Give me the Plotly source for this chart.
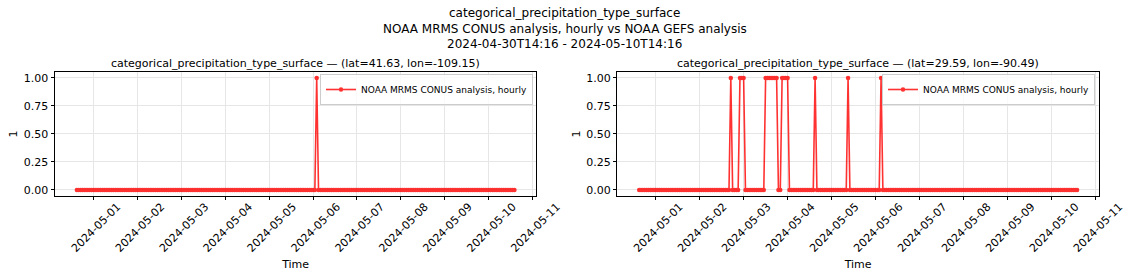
import pandas as pd
import plotly.graph_objects as go

# ---- data -------------------------------------------------------------
start_time = "2024-04-30 15:00"
n_hours = 240
times = pd.date_range(start_time, periods=n_hours, freq="h")

# hourly values, one row per 24 h starting at 15:00
left_values = (
    [0]*24 +
    [0]*24 +
    [0]*24 +
    [0]*24 +
    [0]*24 +
    [0,0,0,0,0,0,0,0,0,0,0,1,0,0,0,0,0,0,0,0,0,0,0,0] +
    [0]*24 +
    [0]*24 +
    [0]*24 +
    [0]*24
)
right_values = (
    [0]*24 +
    [0]*24 +
    [0,0,1,0,0,0,0,1,1,1,0,0,0,0,0,0,0,0,0,0,0,1,1,1] +
    [1,1,1,1,0,0,1,1,1,1,0,0,0,0,0,0,0,0,0,0,0,0,0,0] +
    [1,0,0,0,0,0,0,0,0,0,0,0,0,0,0,0,0,0,1,0,0,0,0,0] +
    [0,0,0,0,0,0,0,0,0,0,0,0,1,0,0,0,0,0,0,0,0,0,0,0] +
    [0]*24 +
    [0]*24 +
    [0]*24 +
    [0]*24
)
series_name = "NOAA MRMS CONUS analysis, hourly"
panel_titles = [
    "categorical_precipitation_type_surface \u2014 (lat=41.63, lon=-109.15)",
    "categorical_precipitation_type_surface \u2014 (lat=29.59, lon=-90.49)",
]
suptitle_lines = [
    "categorical_precipitation_type_surface",
    "NOAA MRMS CONUS analysis, hourly vs NOAA GEFS analysis",
    "2024-04-30T14:16 - 2024-05-10T14:16",
]
y_ticks = [0, 0.25, 0.5, 0.75, 1.0]
x_tick_dates = pd.date_range("2024-05-01", "2024-05-11", freq="D")

# ---- figure -----------------------------------------------------------
W, H = 1129, 279
FONT = "DejaVu Sans"

def px_x(p):
    return p / W

def px_y(p):
    return 1 - p / H

span = times[-1] - times[0]
xr = [times[0] - span * 0.05, times[-1] + span * 0.05]

fig = go.Figure()
for i, vals in enumerate([left_values, right_values]):
    fig.add_trace(go.Scatter(
        x=times, y=vals, mode="lines+markers", name=series_name,
        line=dict(color="red", width=1.6),
        marker=dict(color="red", size=4.5, line=dict(width=0)),
        opacity=0.8,
        xaxis="x" if i == 0 else "x2", yaxis="y" if i == 0 else "y2",
        legend="legend" if i == 0 else "legend2",
        showlegend=True,
    ))

ydom = [px_y(195.5), px_y(72.3)]
xdoms = [[px_x(55), px_x(536.3)], [px_x(617.3), px_x(1099)]]

common_x = dict(
    range=xr, tickvals=list(x_tick_dates),
    ticktext=[d.strftime("%Y-%m-%d") for d in x_tick_dates],
    tickangle=-45, ticks="outside", ticklen=3.5, tickwidth=0.8, tickcolor="black",
    showline=True, mirror=True, linecolor="black", linewidth=0.9,
    showgrid=True, gridcolor="#e6e6e6", gridwidth=0.8, zeroline=False,
    tickfont=dict(family=FONT, size=11, color="black"),
    ticklabelshift=24, ticklabelstandoff=-4,
    title=dict(text="Time", font=dict(family=FONT, size=11, color="black"), standoff=6),
    automargin=False,
)
common_y = dict(
    range=[-0.05, 1.05], tickvals=y_ticks, ticktext=[f"{v:.2f}" for v in y_ticks],
    ticks="outside", ticklen=3.5, tickwidth=0.8, tickcolor="black",
    showline=True, mirror=True, linecolor="black", linewidth=0.9,
    showgrid=True, gridcolor="#e6e6e6", gridwidth=0.8, zeroline=False,
    tickfont=dict(family=FONT, size=11, color="black"),
    title=dict(text="1", font=dict(family=FONT, size=11, color="black"), standoff=3),
    automargin=False, domain=ydom,
)

legend_common = dict(
    font=dict(family=FONT, size=9, color="black"),
    bgcolor="rgba(255,255,255,0.8)", bordercolor="#cccccc", borderwidth=1,
    xanchor="right", yanchor="top", itemwidth=30,
)

fig.update_layout(
    width=W, height=H,
    margin=dict(l=0, r=0, t=0, b=0),
    paper_bgcolor="white", plot_bgcolor="white",
    font=dict(family=FONT, color="black"),
    xaxis=dict(common_x, domain=xdoms[0], anchor="y"),
    xaxis2=dict(common_x, domain=xdoms[1], anchor="y2"),
    yaxis=dict(common_y, anchor="x"),
    yaxis2=dict(common_y, anchor="x2"),
    legend=dict(legend_common, x=px_x(533), y=px_y(74)),
    legend2=dict(legend_common, x=px_x(1095), y=px_y(74)),
)

annotations = []
for line, yc in zip(suptitle_lines, [13, 29, 44]):
    annotations.append(dict(
        text=line, x=0.5, y=px_y(yc), xref="paper", yref="paper",
        xanchor="center", yanchor="middle", showarrow=False,
        font=dict(family=FONT, size=12, color="black"),
    ))
for t, dom in zip(panel_titles, xdoms):
    annotations.append(dict(
        text=t, x=(dom[0] + dom[1]) / 2, y=px_y(63), xref="paper", yref="paper",
        xanchor="center", yanchor="middle", showarrow=False,
        font=dict(family=FONT, size=11, color="black"),
    ))
fig.update_layout(annotations=annotations)

fig.write_html("out.html", config={"displayModeBar": False})
